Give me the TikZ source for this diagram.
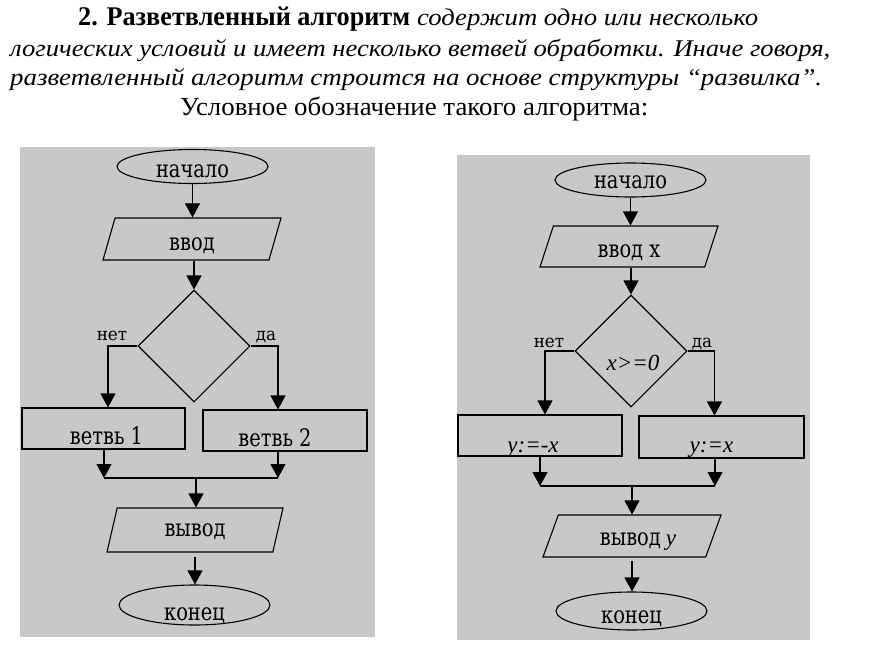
\documentclass[tikz,border=0pt]{standalone}
\usepackage{fontspec}
\usepackage{graphicx}
\setmainfont{Liberation Serif}
\newfontfamily\boxf{DejaVu Serif}
\usetikzlibrary{shapes.geometric,arrows.meta}
\definecolor{panel}{RGB}{200,200,200}
\newcommand\lowt[3]{\raisebox{-#1}[1pt][1pt]{\makebox[1pt]{\hspace*{#2}#3\hspace*{-#2}}}}
\newcommand\mt[1]{\scalebox{1.05}[1.3]{\boxf\fontsize{18.5}{18.5}\selectfont #1}}
\newcommand\ms[1]{\scalebox{1.05}[1.1]{\boxf\fontsize{16}{16}\selectfont #1}}
\newcommand\ivar[1]{{\itshape\fontsize{23}{23}\selectfont #1}}
\tikzset{
  ln/.style={line width=1.1pt, draw=black},
  arr/.style={ln, -{Triangle[width=15pt,length=14pt]}},
  term/.style={ellipse, ln, inner sep=0pt, minimum width=151pt, minimum height=34pt},
  io/.style={trapezium, trapezium stretches body=true, trapezium left angle=74, trapezium right angle=106,
             ln, inner sep=0pt, minimum width=178pt, text height=21pt, text depth=21pt},
  proc/.style={rectangle, ln, inner sep=0pt, minimum width=164pt, minimum height=41pt},
  cond/.style={diamond, ln, inner sep=0pt, minimum width=112pt, minimum height=112pt},
  hdr/.style={inner sep=0pt, anchor=base west},
  yn/.style={inner sep=0pt, anchor=base}
}
\begin{document}
\begin{tikzpicture}[x=1pt,y=-1pt]
\useasboundingbox (0,0) rectangle (869,664);
\fill[white] (0,0) rectangle (869,664);

% header
\node[hdr] (h1a) at (78,25) {\resizebox{332pt}{\height}{\fontsize{27}{27}\selectfont\bfseries 2. Разветвленный алгоритм}};
\node[hdr] (h1b) at (417,25) {\resizebox{341pt}{\height}{\fontsize{24}{24}\selectfont\itshape содержит одно или несколько}};
\node[hdr] (h2) at (10,56) {\resizebox{820pt}{\height}{\fontsize{24}{24}\selectfont\itshape логических условий и имеет несколько ветвей обработки. Иначе говоря,}};
\node[hdr] (h3) at (10,85) {\resizebox{812pt}{\height}{\fontsize{24}{24}\selectfont\itshape разветвленный алгоритм строится на основе структуры “развилка”.}};
\node[hdr] (h4) at (180,115) {\resizebox{468pt}{\height}{\fontsize{26}{26}\selectfont Условное обозначение такого алгоритма:}};

% panels
\fill[panel] (20,147) rectangle (375,637);
\fill[panel] (457,155) rectangle (810,640);

% ---------- left diagram ----------
\node[term] (s1) at (192.5,166.5) {\lowt{11pt}{0pt}{\mt{начало}}};
\node[io] (i1) at (192,239) {\lowt{11pt}{0pt}{\mt{ввод}}};
\node[cond] (d1) at (194,346) {};
\node[proc, minimum width=163pt] (b1) at (103.5,428.5) {\lowt{16pt}{3pt}{\mt{ветвь 1}}};
\node[proc] (b2) at (285,430.5) {\lowt{16pt}{-10pt}{\mt{ветвь 2}}};
\node[io, minimum width=176pt, text height=22pt, text depth=22pt, trapezium left angle=77, trapezium right angle=103] (o1) at (195,530) {\lowt{6pt}{0pt}{\mt{вывод}}};
\node[term, minimum height=40pt] (e1) at (194.5,605) {\lowt{15pt}{0pt}{\mt{конец}}};

\node[yn] (n1) at (112,340) {\ms{нет}};
\node[yn] (y1) at (266,340) {\ms{да}};

\coordinate (t1) at ([xshift=4.5pt]b1.north);
\coordinate (t2) at ([xshift=-7pt]b2.north);
\coordinate (j1) at (104,478);
\coordinate (j2) at (278,478);
\coordinate (j3) at (196,478);

\draw[arr] (s1.south) -- (s1.south |- i1.north);
\draw[arr] (i1.south -| d1.north) -- (d1.north);
\draw[arr] (d1.west) -| (t1);
\draw[arr] (d1.east) -| (t2);
\draw[arr] (b1.south -| j1) -- (j1);
\draw[arr] (b2.south -| j2) -- (j2);
\draw[ln] (j1) -- (j2);
\draw[arr] (j3) -- (j3 |- o1.north);
\draw[arr] ([yshift=-4pt]o1.south) -- (o1.south |- e1.north);

% ---------- right diagram ----------
\node[term] (s2) at (630.5,180) {\lowt{8pt}{0pt}{\mt{начало}}};
\node[io, text height=20.5pt, text depth=20.5pt, trapezium left angle=72, trapezium right angle=108] (i2) at (629,246.5) {\lowt{11pt}{0pt}{\mt{ввод x}}};
\node[cond] (d2) at (631,351) {\lowt{19pt}{2pt}{\ivar{x>=0}}};
\node[proc] (b3) at (540,435.5) {\lowt{17pt}{-7pt}{\ivar{y:=-x}}};
\node[proc, minimum width=165pt, minimum height=42pt] (b4) at (721.5,437) {\lowt{15pt}{-10pt}{\ivar{y:=x}}};
\node[io, trapezium left angle=70, trapezium right angle=110] (o2) at (632,536) {\lowt{9pt}{6pt}{\mt{вывод}\hspace{5pt}\ivar{y}}};
\node[term, minimum height=38pt] (e2) at (631.5,611) {\lowt{12pt}{0pt}{\mt{конец}}};

\node[yn] (n2) at (549,347) {\ms{нет}};
\node[yn] (y2) at (702,347) {\ms{да}};

\coordinate (t3) at ([xshift=5pt]b3.north);
\coordinate (t4) at ([xshift=-7pt]b4.north);
\coordinate (j4) at (540,486);
\coordinate (j5) at (715,486);
\coordinate (j6) at (632,486);

\draw[arr] (s2.south) -- (s2.south |- i2.north);
\draw[arr] (i2.south -| d2.north) -- (d2.north);
\draw[arr] (d2.west) -| (t3);
\draw[arr] (d2.east) -| (t4);
\draw[arr] (b3.south -| j4) -- (j4);
\draw[arr] (b4.south -| j5) -- (j5);
\draw[ln] (j4) -- (j5);
\draw[arr] (j6) -- (j6 |- o2.north);
\draw[arr] ([yshift=-3pt]o2.south) -- (o2.south |- e2.north);
\end{tikzpicture}
\end{document}
